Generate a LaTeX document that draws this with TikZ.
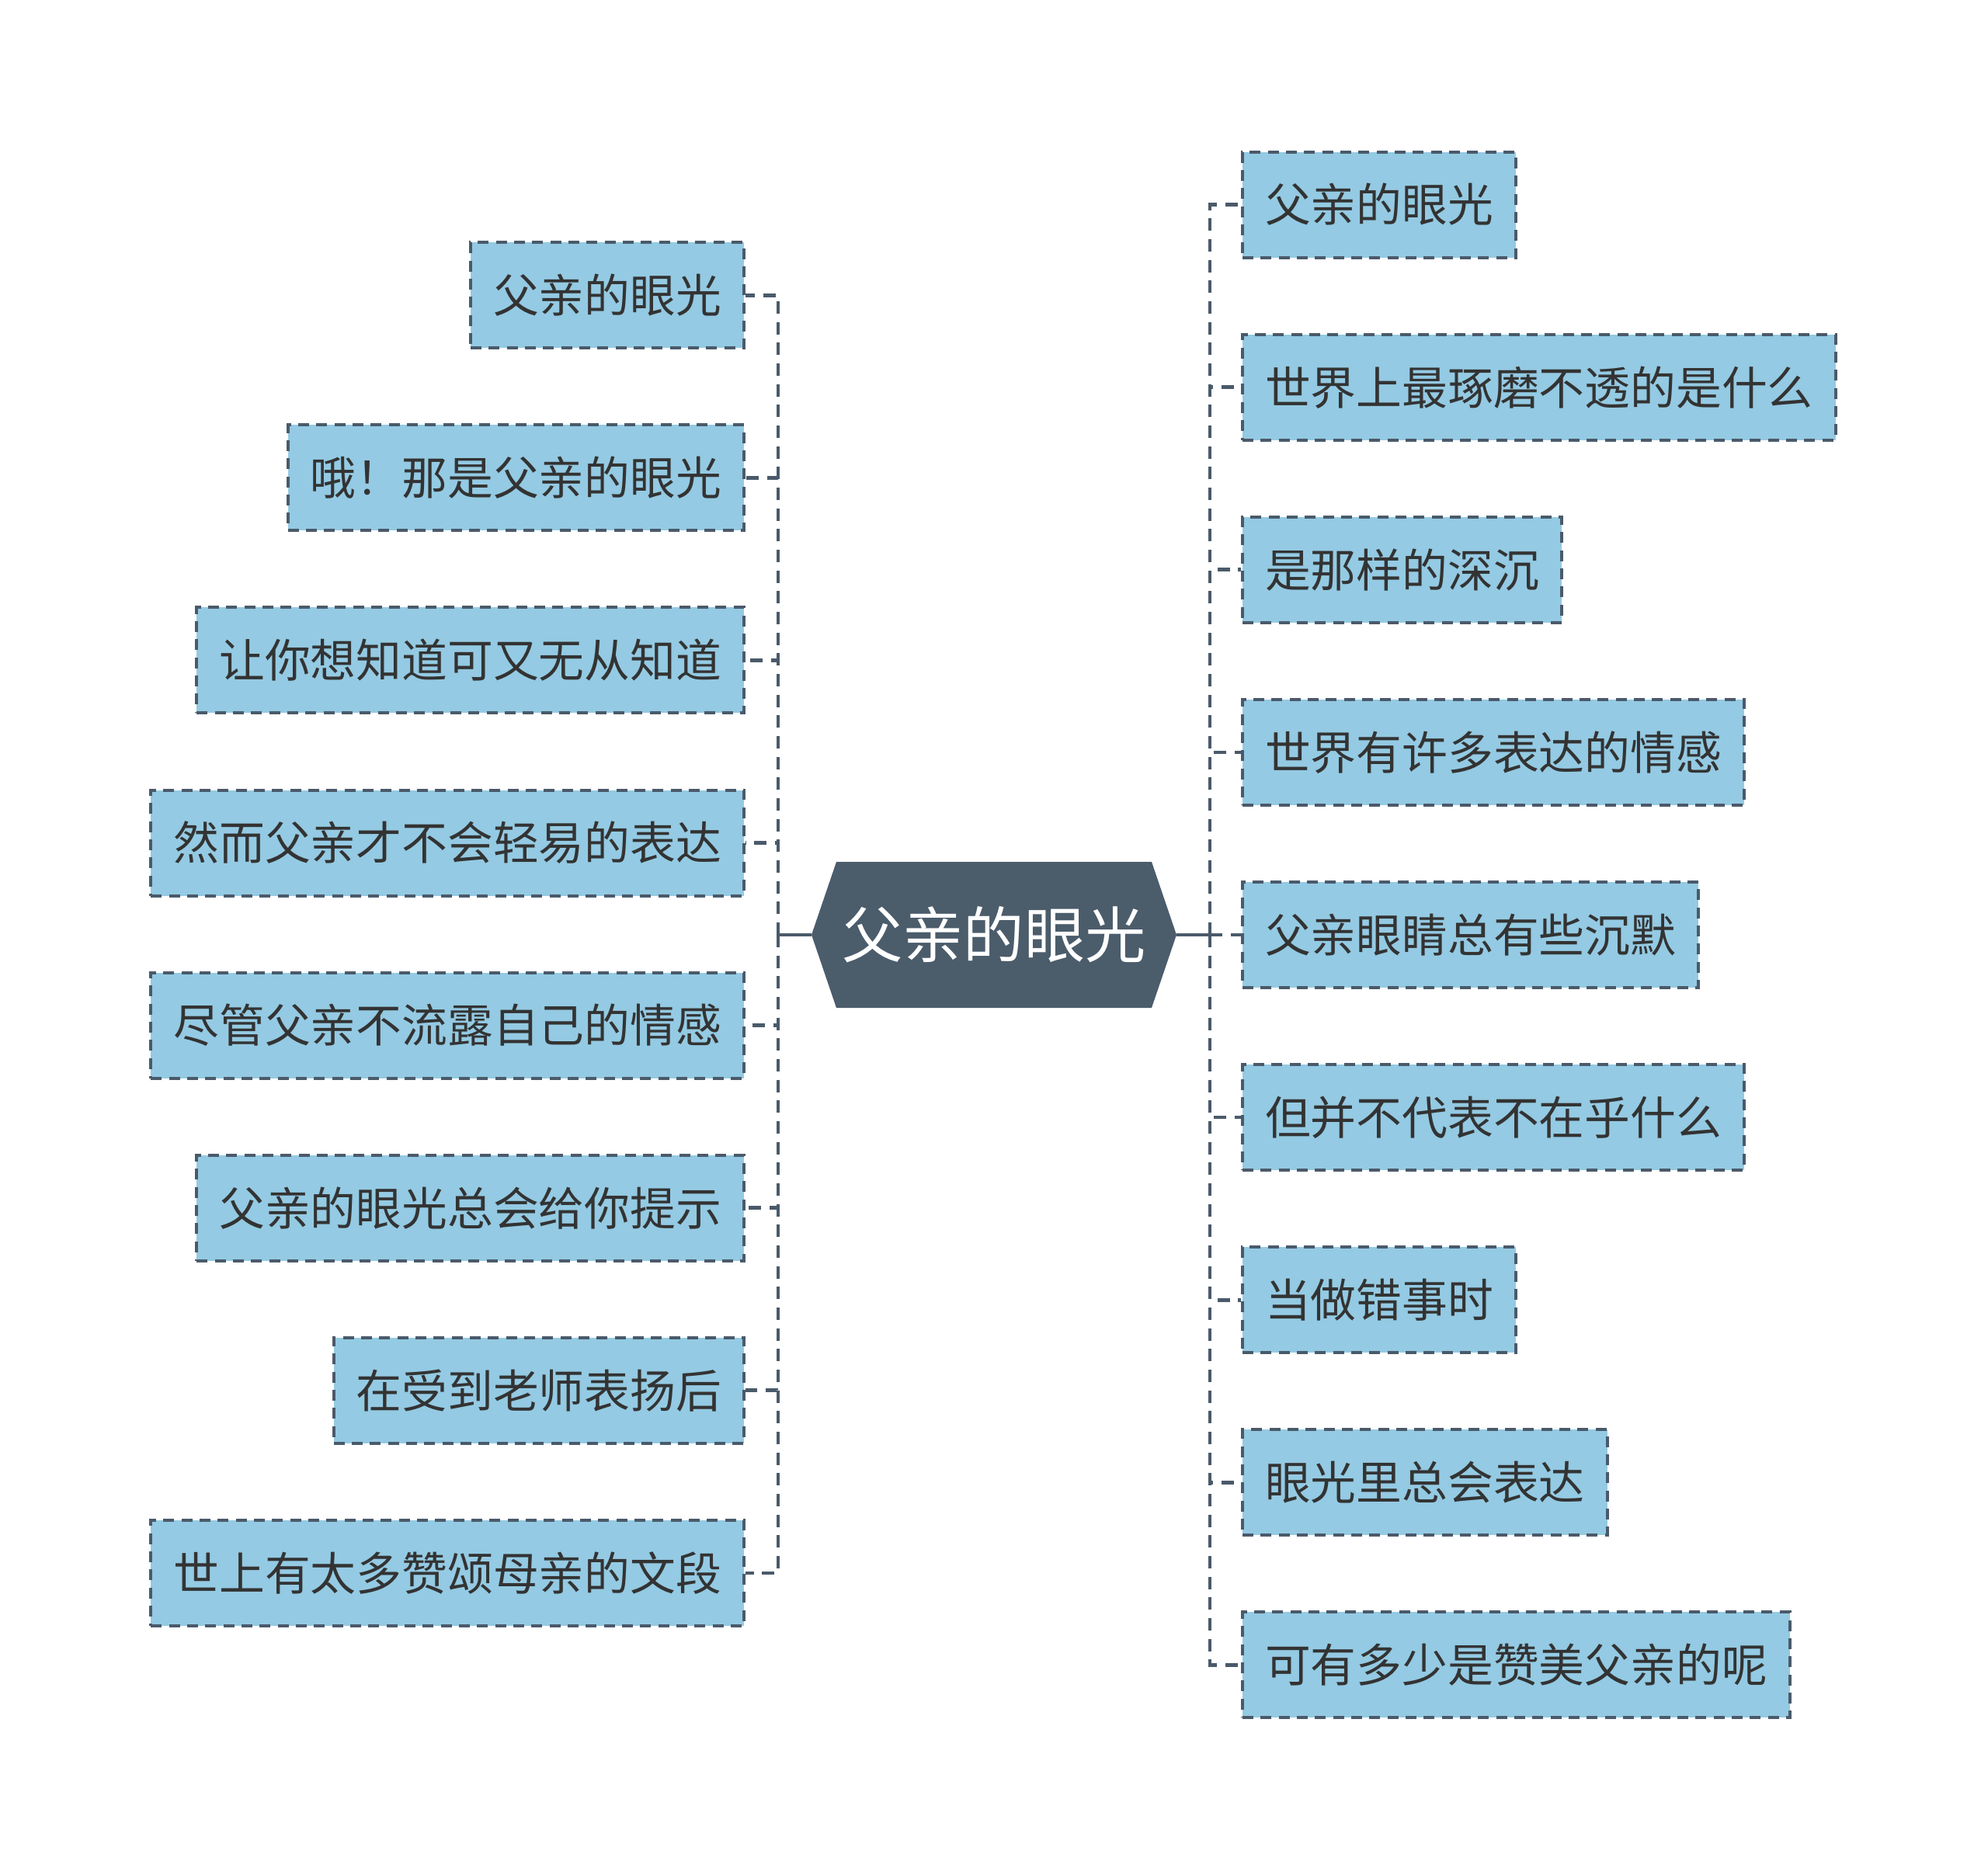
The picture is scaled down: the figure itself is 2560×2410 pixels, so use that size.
\documentclass[tikz,border=0pt]{standalone}
\usepackage{fontspec}
\setmainfont{Noto Sans CJK SC}
\definecolor{lineC}{HTML}{4A5A6A}
\definecolor{boxC}{HTML}{94CAE3}
\definecolor{rootC}{HTML}{4B5C6B}
\definecolor{txtC}{HTML}{333333}
\begin{document}
\begin{tikzpicture}[x=0.3pt,y=-0.3pt,
  leaf/.style={draw=lineC, fill=boxC, line width=1.2pt, dash pattern=on 4.2pt off 2.8pt,
    minimum height=40.8pt, inner xsep=8.7pt, inner ysep=0pt,
    font=\fontsize{17.64pt}{20pt}\selectfont, text=txtC},
  link/.style={draw=lineC, line width=1.4pt, dash pattern=on 4.8pt off 3.2pt},
  trunk/.style={draw=lineC, line width=1.4pt}
]
\useasboundingbox (0,0) rectangle (2560,2410);
% root
\fill[rootC] (1045,1204) -- (1077,1110) -- (1483,1110) -- (1515,1204) -- (1483,1298) -- (1077,1298) -- cycle;
\node[font=\fontsize{23.5pt}{26pt}\selectfont, text=white, inner sep=0pt] (root) at (1280,1204) {父亲的眼光};
\coordinate (cl) at (1045,1204);
\coordinate (cr) at (1515,1204);
\coordinate (lb) at (1002,1204);
\coordinate (rb) at (1558,1204);
% left children
\node[leaf, anchor=east] (L1) at (960,380.2) {父亲的眼光};
\node[leaf, anchor=east] (L2) at (960,615.3) {哦！那是父亲的眼光};
\node[leaf, anchor=east] (L3) at (960,850.4) {让你想知道可又无从知道};
\node[leaf, anchor=east] (L4) at (960,1085.5) {然而父亲才不会轻易的表达};
\node[leaf, anchor=east] (L5) at (960,1320.6) {尽管父亲不流露自己的情感};
\node[leaf, anchor=east] (L6) at (960,1555.7) {父亲的眼光总会给你提示};
\node[leaf, anchor=east] (L7) at (960,1790.8) {在受到老师表扬后};
\node[leaf, anchor=east] (L8) at (960,2025.9) {世上有太多赞颂母亲的文段};
% right children
\node[leaf, anchor=west] (R1) at (1598,263.6) {父亲的眼光};
\node[leaf, anchor=west] (R2) at (1598,498.7) {世界上最琢磨不透的是什么};
\node[leaf, anchor=west] (R3) at (1598,733.8) {是那样的深沉};
\node[leaf, anchor=west] (R4) at (1598,968.9) {世界有许多表达的情感};
\node[leaf, anchor=west] (R5) at (1598,1204) {父亲眼睛总有些沉默};
\node[leaf, anchor=west] (R6) at (1598,1439.1) {但并不代表不在乎什么};
\node[leaf, anchor=west] (R7) at (1598,1674.2) {当做错事时};
\node[leaf, anchor=west] (R8) at (1598,1909.3) {眼光里总会表达};
\node[leaf, anchor=west] (R9) at (1598,2144.4) {可有多少是赞美父亲的呢};
% connectors
\draw[trunk] (cl) -- (lb);
\draw[trunk] (cr) -- (rb);
\foreach \n in {L1,L2,L3,L4,L5,L6,L7,L8} {\draw[link] (lb) |- (\n.east);}
\foreach \n in {R1,R2,R3,R4,R5,R6,R7,R8,R9} {\draw[link] (rb) |- (\n.west);}
\end{tikzpicture}
\end{document}
